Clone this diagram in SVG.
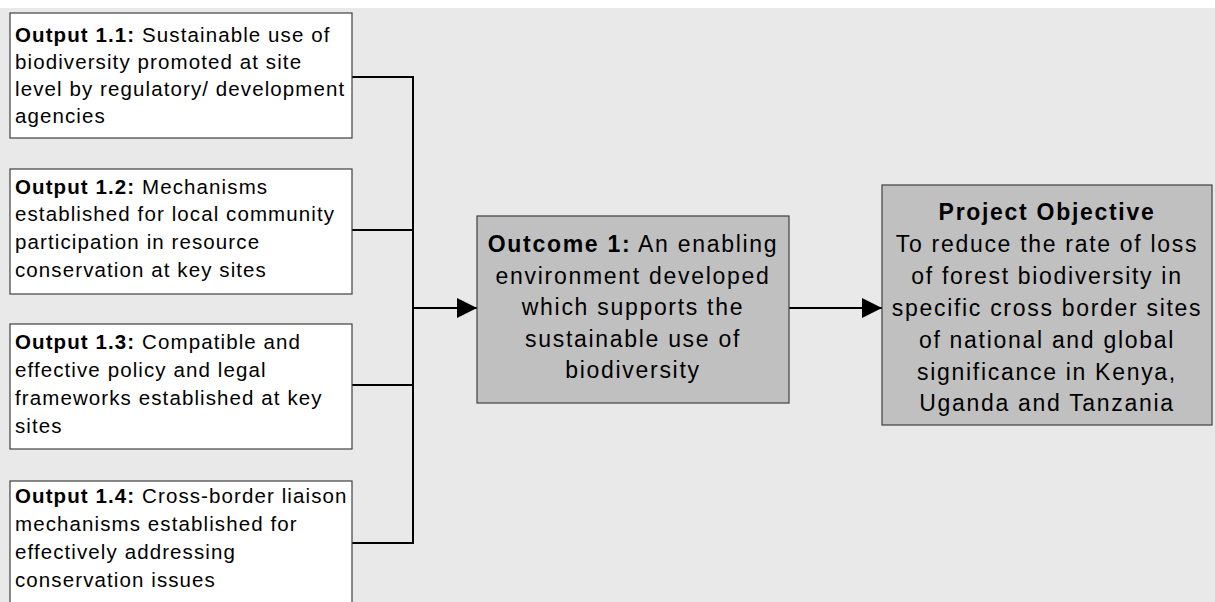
<svg xmlns="http://www.w3.org/2000/svg" width="1215" height="602" viewBox="0 0 1215 602">
  <defs>
    <style>
      .out { fill: #ffffff; stroke: #404040; stroke-width: 1.2; }
      .mid { fill: #c0c0c0; stroke: #404040; stroke-width: 1.2; }
      .wire { fill: none; stroke: #000000; stroke-width: 2; }
      .t-out { font-family: "Liberation Sans", Arial, sans-serif; font-size: 20.5px; letter-spacing: 1.1px; fill: #000; }
      .t-mid { font-family: "Liberation Sans", Arial, sans-serif; font-size: 23px; letter-spacing: 1.7px; fill: #000; text-anchor: middle; }
      .b { font-weight: bold; }
    </style>
    <marker id="arrow" viewBox="0 0 20 20" refX="20" refY="10" markerWidth="20" markerHeight="20" markerUnits="userSpaceOnUse" orient="auto">
      <path d="M0,0 L20,10 L0,20 Z" fill="#000000"/>
    </marker>
  </defs>

  <!-- page background -->
  <rect x="0" y="0" width="1215" height="602" fill="#ffffff"/>
  <rect x="0" y="8" width="1215" height="594" fill="#e9e9e9"/>

  <!-- connectors -->
  <g id="connectors">
    <path class="wire" d="M352,77 H413 V543 H352"/>
    <path class="wire" d="M352,230 H413"/>
    <path class="wire" d="M352,385 H413"/>
    <path class="wire" d="M413,308 H477" marker-end="url(#arrow)"/>
    <path class="wire" d="M789,308 H882" marker-end="url(#arrow)"/>
  </g>

  <!-- Output 1.1 -->
  <g id="output-1-1">
    <rect class="out" x="10" y="13" width="342" height="125"/>
    <text class="t-out" x="15" y="42"><tspan class="b">Output 1.1:</tspan> Sustainable use of</text>
    <text class="t-out" x="15" y="69">biodiversity promoted at site</text>
    <text class="t-out" x="15" y="96">level by regulatory/ development</text>
    <text class="t-out" x="15" y="123">agencies</text>
  </g>

  <!-- Output 1.2 -->
  <g id="output-1-2">
    <rect class="out" x="10" y="169" width="342" height="125"/>
    <text class="t-out" x="15" y="194"><tspan class="b">Output 1.2:</tspan> Mechanisms</text>
    <text class="t-out" x="15" y="221">established for local community</text>
    <text class="t-out" x="15" y="249">participation in resource</text>
    <text class="t-out" x="15" y="277">conservation at key sites</text>
  </g>

  <!-- Output 1.3 -->
  <g id="output-1-3">
    <rect class="out" x="10" y="324" width="342" height="125"/>
    <text class="t-out" x="15" y="349"><tspan class="b">Output 1.3:</tspan> Compatible and</text>
    <text class="t-out" x="15" y="377">effective policy and legal</text>
    <text class="t-out" x="15" y="405">frameworks established at key</text>
    <text class="t-out" x="15" y="433">sites</text>
  </g>

  <!-- Output 1.4 (runs past the bottom edge) -->
  <g id="output-1-4">
    <rect class="out" x="10" y="481" width="342" height="140"/>
    <text class="t-out" x="15" y="503"><tspan class="b">Output 1.4:</tspan> Cross-border liaison</text>
    <text class="t-out" x="15" y="531">mechanisms established for</text>
    <text class="t-out" x="15" y="559">effectively addressing</text>
    <text class="t-out" x="15" y="587">conservation issues</text>
  </g>

  <!-- Outcome 1 -->
  <g id="outcome-1">
    <rect class="mid" x="477" y="216" width="312" height="187"/>
    <text class="t-mid" x="633" y="252"><tspan class="b">Outcome 1:</tspan> An enabling</text>
    <text class="t-mid" x="633" y="284">environment developed</text>
    <text class="t-mid" x="633" y="315">which supports the</text>
    <text class="t-mid" x="633" y="347">sustainable use of</text>
    <text class="t-mid" x="633" y="378">biodiversity</text>
  </g>

  <!-- Project objective -->
  <g id="project-objective">
    <rect class="mid" x="882" y="185" width="330" height="240"/>
    <text class="t-mid b" x="1047" y="220">Project Objective</text>
    <text class="t-mid" x="1047" y="252">To reduce the rate of loss</text>
    <text class="t-mid" x="1047" y="284">of forest biodiversity in</text>
    <text class="t-mid" x="1047" y="316">specific cross border sites</text>
    <text class="t-mid" x="1047" y="348">of national and global</text>
    <text class="t-mid" x="1047" y="380">significance in Kenya,</text>
    <text class="t-mid" x="1047" y="411">Uganda and Tanzania</text>
  </g>
</svg>
